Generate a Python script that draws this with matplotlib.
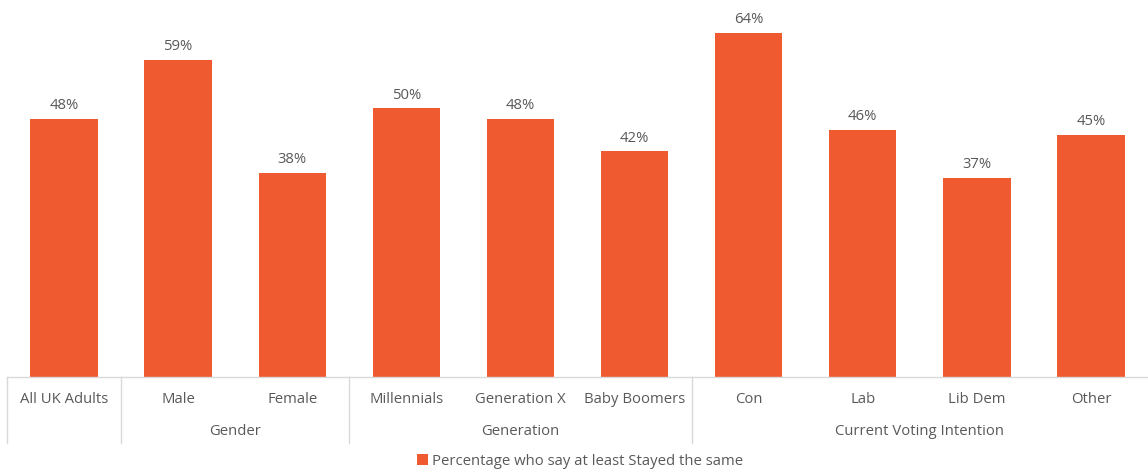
import matplotlib
matplotlib.use("Agg")
import matplotlib.pyplot as plt
from matplotlib.transforms import blended_transform_factory
from matplotlib.patches import Patch

plt.rcParams['font.family'] = ['Open Sans', 'DejaVu Sans']

categories = ["All UK Adults", "Male", "Female", "Millennials", "Generation X",
              "Baby Boomers", "Con", "Lab", "Lib Dem", "Other"]
values = [48, 59, 38, 50, 48, 42, 64, 46, 37, 45]
groups = [("Gender", 1, 2), ("Generation", 3, 5), ("Current Voting Intention", 6, 9)]
series_name = "Percentage who say at least Stayed the same"

bar_color = "#EF5A30"
text_color = "#595959"
line_color = "#D9D9D9"

W, H = 1148, 473
fig = plt.figure(figsize=(W / 100, H / 100), dpi=100)
ax = fig.add_axes([7 / W, (H - 377) / H, (W - 7) / W, 377 / H])

x = list(range(len(categories)))
bars = ax.bar(x, values, width=0.59, color=bar_color, zorder=2)
for b, v in zip(bars, values):
    ax.annotate(f"{v}%", (b.get_x() + b.get_width() / 2, v), xytext=(0, 4),
                textcoords="offset points", ha="center", va="bottom",
                fontsize=10.7, color=text_color)

ax.set_xlim(-0.5, len(categories) - 0.5)
ax.set_ylim(0, 70.1)
ax.set_yticks([])
ax.set_xticks([])
for s in ["top", "right", "left"]:
    ax.spines[s].set_visible(False)
ax.spines["bottom"].set_color(line_color)
ax.spines["bottom"].set_linewidth(1)
ax.patch.set_alpha(0)

trans = blended_transform_factory(ax.transData, fig.transFigure)
cat_y = (H - 399) / H
grp_y = (H - 431) / H
for i, c in enumerate(categories):
    ax.text(i, cat_y, c, transform=trans, ha="center", va="center",
            fontsize=10.7, color=text_color)
for name, a, b in groups:
    ax.text((a + b) / 2, grp_y, name, transform=trans, ha="center", va="center",
            fontsize=10.7, color=text_color)

sep_top = (H - 377) / H
sep_bot = (H - 443) / H
for xs in [-0.5, 0.5, 2.5, 5.5]:
    ax.plot([xs, xs], [sep_top, sep_bot], transform=trans, color=line_color,
            lw=1, clip_on=False)

handle = Patch(facecolor=bar_color, edgecolor="none")
fig.legend([handle], [series_name], loc="center", bbox_to_anchor=(580 / W, (H - 461) / H),
           frameon=False, fontsize=10.7, handlelength=0.75, handleheight=0.75,
           handletextpad=0.3, labelcolor=text_color)

fig.savefig("out.png", dpi=100, facecolor="white")
